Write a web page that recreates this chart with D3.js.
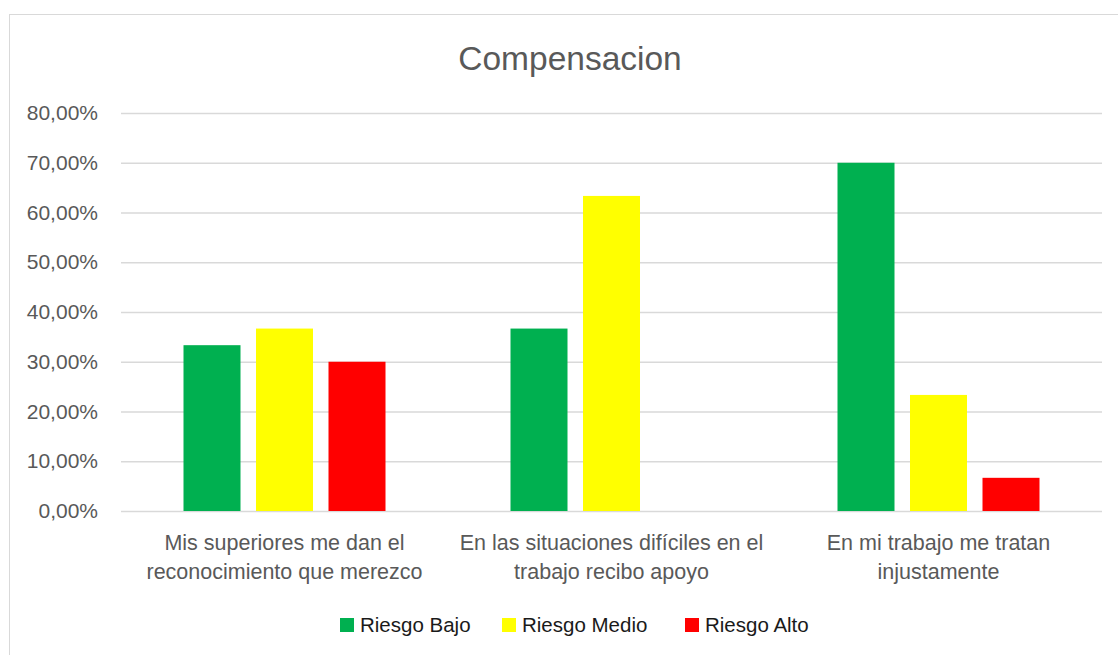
<!DOCTYPE html>
<html><head><meta charset="utf-8">
<script src="https://cdn.jsdelivr.net/npm/d3@7"></script>
<style>body{margin:0;background:#fff}svg{display:block}text{font-family:"Liberation Sans",Arial,sans-serif}</style>
</head><body><svg id="c" width="1118" height="655"></svg>
<script>
const title = "Compensacion";
const categories = [
  ["Mis superiores me dan el", "reconocimiento que merezco"],
  ["En las situaciones difíciles en el", "trabajo recibo apoyo"],
  ["En mi trabajo me tratan", "injustamente"]
];
const seriesNames = ["Riesgo Bajo", "Riesgo Medio", "Riesgo Alto"];
const seriesColors = ["#00b050", "#ffff00", "#ff0000"];
const riesgoBajo = [0.3333, 0.3667, 0.70];
const riesgoMedio = [0.3667, 0.6333, 0.2333];
const riesgoAlto = [0.30, 0, 0.0667];
const yTicks = [0, 0.1, 0.2, 0.3, 0.4, 0.5, 0.6, 0.7, 0.8];

const series = [riesgoBajo, riesgoMedio, riesgoAlto];
const svg = d3.select("#c");
const m = {left: 121, right: 1102, top: 113, bottom: 511};

// chart border
svg.append("rect").attr("x", 9.5).attr("y", 14.5).attr("width", 1120).attr("height", 660)
  .attr("fill", "#fff").attr("stroke", "#d9d9d9").attr("stroke-width", 1);

svg.append("text").attr("x", 570).attr("y", 70).attr("text-anchor", "middle")
  .attr("font-size", 33.5).attr("fill", "#595959").text(title);

const x = d3.scaleBand().domain(d3.range(categories.length)).range([m.left, m.right]);
const y = d3.scaleLinear().domain([0, 0.8]).range([m.bottom, m.top]);
const fmt = v => d3.format(".2f")(v * 100).replace(".", ",") + "%";

const yAxis = d3.axisLeft(y).tickValues(yTicks).tickFormat(fmt).tickSize(-(m.right - m.left)).tickPadding(23);
const gy = svg.append("g").attr("transform", `translate(${m.left},0)`).call(yAxis);
gy.select(".domain").remove();
gy.selectAll(".tick line").attr("stroke", "#d9d9d9").attr("stroke-width", 1.3);
gy.selectAll(".tick text").attr("font-size", 21).attr("fill", "#595959");

const barW = 57, step = 72.5;
const n = series.length;
series.forEach((vals, s) => {
  svg.append("g").selectAll("rect").data(vals).join("rect")
    .attr("x", (d, i) => x(i) + x.bandwidth() / 2 + (s - (n - 1) / 2) * step - barW / 2)
    .attr("width", barW)
    .attr("y", d => y(d))
    .attr("height", d => y(0) - y(d))
    .attr("fill", seriesColors[s]);
});

const gx = svg.append("g");
categories.forEach((lines, i) => {
  const cx = x(i) + x.bandwidth() / 2;
  const t = gx.append("text").attr("x", cx).attr("y", 550)
    .attr("text-anchor", "middle").attr("font-size", 21.5).attr("fill", "#595959");
  lines.forEach((l, k) => t.append("tspan").attr("x", cx).attr("dy", k ? 29 : 0).text(l));
});

// legend
const legX = [340, 502, 685];
const lg = svg.append("g");
seriesNames.forEach((nm, i) => {
  lg.append("rect").attr("x", legX[i]).attr("y", 618).attr("width", 14).attr("height", 14).attr("fill", seriesColors[i]);
  lg.append("text").attr("x", legX[i] + 20).attr("y", 632).attr("font-size", 20.5).attr("fill", "#1a1a1a").text(nm);
});
</script></body></html>
